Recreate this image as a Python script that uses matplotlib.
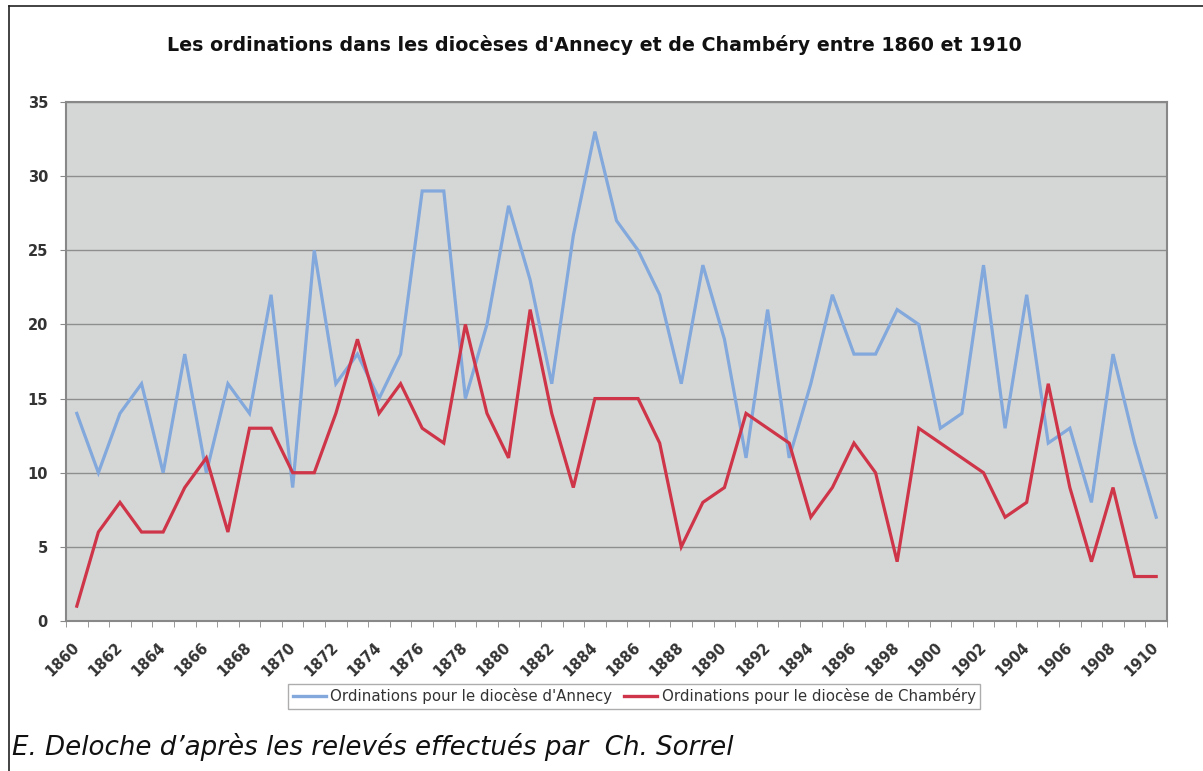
import numpy as np
import matplotlib
matplotlib.use("Agg")
import matplotlib.pyplot as plt
from matplotlib.lines import Line2D
from matplotlib.transforms import ScaledTranslation

years = list(range(1860, 1911))
annecy = [14, 10, 14, 16, 10, 18, 10, 16, 14, 22,
          9, 25, 16, 18, 15, 18, 29, 29, 15, 20,
          28, 23, 16, 26, 33, 27, 25, 22, 16, 24,
          19, 11, 21, 11, 16, 22, 18, 18, 21, 20,
          13, 14, 24, 13, 22, 12, 13, 8, 18, 12,
          7]
chambery = [1, 6, 8, 6, 6, 9, 11, 6, 13, 13,
            10, 10, 14, 19, 14, 16, 13, 12, 20, 14,
            11, 21, 14, 9, 15, 15, 15, 12, 5, 8,
            9, 14, 13, 12, 7, 9, 12, 10, 4, 13,
            12, 11, 10, 7, 8, 16, 9, 4, 9, 3,
            3]
labels = ["Ordinations pour le diocèse d'Annecy",
          "Ordinations pour le diocèse de Chambéry"]
title = "Les ordinations dans les diocèses d'Annecy et de Chambéry entre 1860 et 1910"
source = "E. Deloche d\u2019après les relevés effectués par  Ch. Sorrel"

blue = "#82a8dc"
red = "#cf3548"

plt.rcParams['font.family'] = ['DejaVu Sans']

fig = plt.figure(figsize=(12.03, 7.71), dpi=100)
ax = fig.add_axes([66 / 1203, 1 - 621 / 771, (1167 - 66) / 1203, (621 - 102) / 771])

x = np.arange(len(years))
ax.plot(x, annecy, color=blue, lw=2.3, solid_joinstyle='miter', zorder=3)
ax.plot(x, chambery, color=red, lw=2.3, solid_joinstyle='miter', zorder=4)

ax.set_facecolor("#d5d7d7")
ax.set_xlim(-0.5, len(years) - 0.5)
ax.set_ylim(0, 35)
ax.set_yticks(range(0, 36, 5))
ax.yaxis.grid(True, color="#8e8e8e", lw=1.0)
ax.set_axisbelow(True)

ax.set_xticks(x[::2])
ax.set_xticklabels([str(y) for y in years[::2]], rotation=45, ha='right', va='center',
                   rotation_mode='anchor', fontsize=10.5, color="#333333",
                   fontweight='bold')
shift = ScaledTranslation(-9 / 100, 0, fig.dpi_scale_trans)
for lab in ax.get_xticklabels():
    lab.set_transform(lab.get_transform() + shift)
ax.set_xticks(np.arange(-0.5, len(years), 1), minor=True)
ax.tick_params(axis='x', which='major', length=0, pad=17)
ax.tick_params(axis='x', which='minor', length=4, color="#888888", direction='out')
ax.tick_params(axis='y', length=4, color="#888888", labelsize=10.5, labelcolor="#333333",
               pad=9)
for lab in ax.get_yticklabels():
    lab.set_fontweight('bold')

for s in ax.spines.values():
    s.set_color("#888888")
    s.set_linewidth(1.5)

fig.text(594 / 1203, 1 - 45 / 771, title, ha='center', va='center', fontsize=13.7,
         fontweight='bold', color="#111111")

handles = [Line2D([], [], color=blue, lw=2.4), Line2D([], [], color=red, lw=2.4)]
leg = fig.legend(handles, labels, loc='center', bbox_to_anchor=(634 / 1203, 1 - 696 / 771),
                 ncol=2, fontsize=10.8, frameon=True, fancybox=False, handlelength=2.2,
                 handletextpad=0.3, columnspacing=0.8, borderpad=0.3, labelcolor="#333333")
leg.get_frame().set_edgecolor("#999999")
leg.get_frame().set_linewidth(1.0)

fig.text(12 / 1203, 1 - 747 / 771, source, ha='left', va='center', fontsize=18.8,
         style='italic', color="#111111")

# outer frame (left and top edges)
fig.add_artist(Line2D([9 / 1203, 9 / 1203], [0, 1 - 6 / 771], transform=fig.transFigure,
                      color="#222222", lw=1.2))
fig.add_artist(Line2D([9 / 1203, 1], [1 - 6 / 771, 1 - 6 / 771], transform=fig.transFigure,
                      color="#222222", lw=1.2))

fig.savefig("out.png", dpi=100)
